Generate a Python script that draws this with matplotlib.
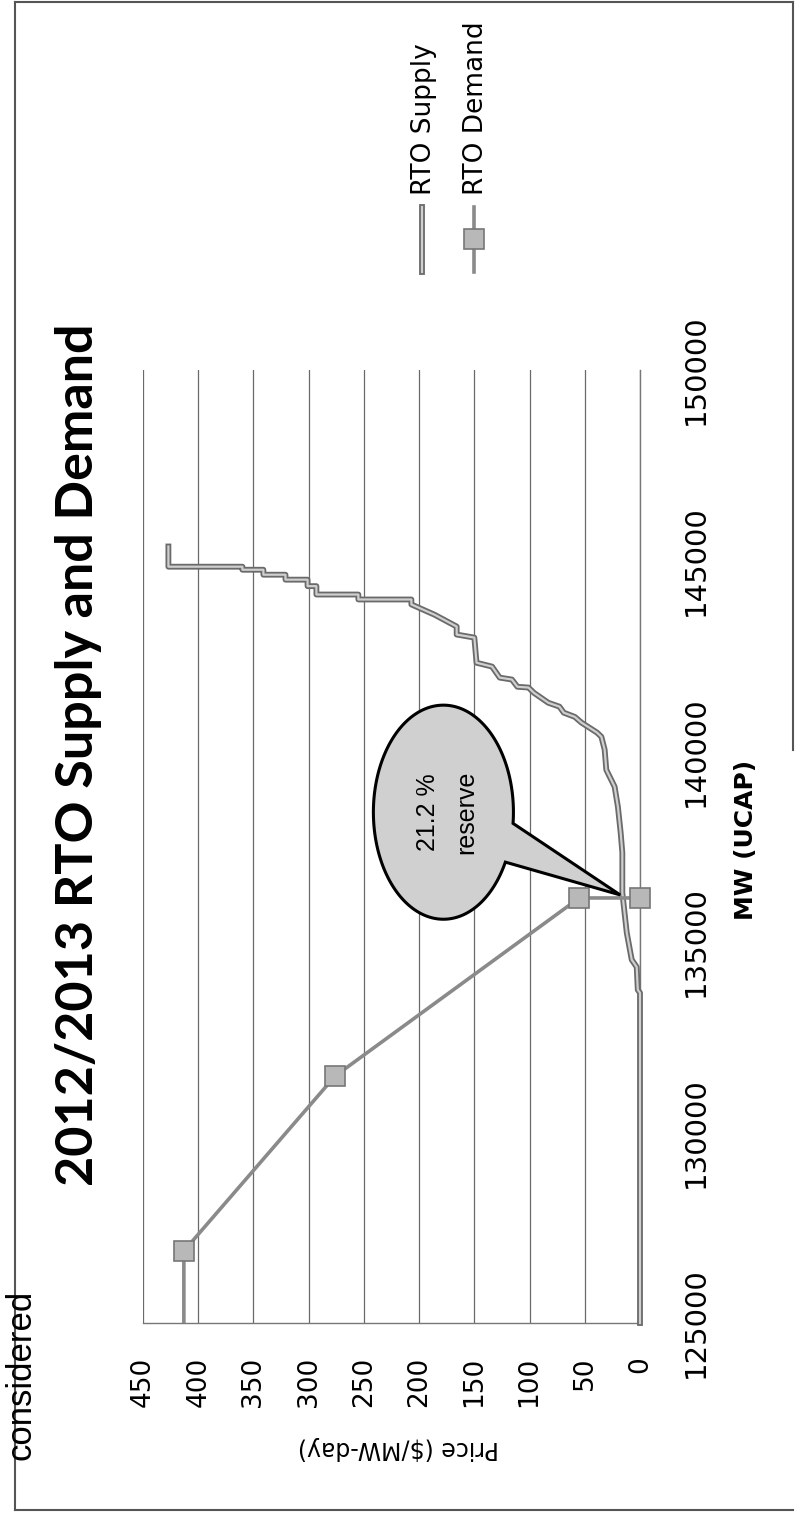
import numpy as np
import matplotlib
matplotlib.use("Agg")
import matplotlib.pyplot as plt
from matplotlib.lines import Line2D
from matplotlib.patches import Polygon

# RTO supply curve ($/MW-day vs MW UCAP)
supply_price = [0, 0, 2, 3, 7.5, 12, 16, 16, 17.5, 20, 23, 30.5, 32, 35, 39, 53, 59,
                69, 73, 83, 96, 101, 111, 116, 127, 134, 148, 150, 166, 166, 186,
                207, 207, 255, 255, 293, 293, 301, 301, 321, 321, 341, 341, 360,
                360, 427, 427]
supply_mw = [125000, 133660, 133740, 134340, 134530, 135240, 136290, 137340, 137860,
             138540, 139070, 139510, 140040, 140380, 140490, 140750, 140900, 141010,
             141170, 141270, 141530, 141670, 141690, 141880, 141930, 142220, 142320,
             142980, 143060, 143270, 143580, 143850, 143980, 143980, 144110, 144110,
             144330, 144330, 144500, 144500, 144630, 144630, 144760, 144760, 144840,
             144840, 145370]

# RTO demand (VRR) curve, first point lies below the axis range
demand_price = [413, 413, 276, 55, 0]
demand_mw = [120000, 126890, 131480, 136150, 136150]

price_ticks = [0, 50, 100, 150, 200, 250, 300, 350, 400, 450]
mw_ticks = [125000, 130000, 135000, 140000, 145000, 150000]

title = "2012/2013 RTO Supply and Demand"
legend_labels = ["RTO Supply", "RTO Demand"]
callout_text = "21.2 %\nreserve"
clear_price, clear_mw = 18, 136230  # where the callout points

plt.rcParams['font.family'] = ['DejaVu Sans']

W, H = 798, 1515
fig = plt.figure(figsize=(W / 100, H / 100), dpi=100)


def px(x, y):
    # pixel from top-left -> figure fraction
    return x / W, 1 - y / H


# the page is scanned sideways: price runs right-to-left, MW runs upward
ax = fig.add_axes([143 / W, 1 - 1323 / H, 497 / W, 953 / H])
ax.set_xlim(450, 0)
ax.set_ylim(125000, 150000)

ax.plot(supply_price, supply_mw, color='#6a6a6a', lw=4.2, clip_on=False, zorder=3)
ax.plot(supply_price, supply_mw, color='#cfcfcf', lw=1.6, clip_on=False, zorder=4)

ax.plot(demand_price, demand_mw, color='#8a8a8a', lw=2.6, zorder=5)
ax.plot(demand_price[1:], demand_mw[1:], 's', ms=15, mfc='#b8b8b8', mec='#777777',
        mew=1.2, clip_on=False, zorder=5)

ax.set_xticks(price_ticks)
ax.set_xticklabels([str(v) for v in price_ticks], rotation=90, fontsize=19)
ax.tick_params(axis='x', length=0, pad=24)

ax.yaxis.tick_right()
ax.set_yticks(mw_ticks)
ax.set_yticklabels([str(v) for v in mw_ticks], rotation=90, va='center', fontsize=21)
ax.tick_params(axis='y', length=0, pad=30)

ax.grid(axis='x', color='#6a6a6a', lw=0.9)
ax.grid(axis='y', visible=False)
ax.set_axisbelow(True)
for s in ['top', 'left']:
    ax.spines[s].set_visible(False)
for s in ['bottom', 'right']:
    ax.spines[s].set_color('#777777')
    ax.spines[s].set_linewidth(1.0)

# speech-bubble callout
pc, mc = 178, 138400
a, b = 63.4, 2808
th = np.radians(np.linspace(27.8, 366, 240))
pts = np.column_stack([pc - a * np.cos(th), mc - b * np.sin(th)])
pts = np.vstack([pts, [[clear_price, clear_mw]]])
ax.add_patch(Polygon(pts, closed=True, fc='#d0d0d0', ec='black', lw=2.2, zorder=6,
                     clip_on=False))
ax.text(pc - 3, mc, callout_text, rotation=90, ha='center', va='center', fontsize=18,
        family='Liberation Sans', linespacing=1.75, zorder=7)

# titles and axis labels (rotated with the page)
fig.text(*px(79, 755), title, rotation=90, ha='center', va='center', fontsize=37.5,
         fontweight='bold', family='Lato')
fig.text(*px(398, 1448), 'Price ($/MW-day)', rotation=180, ha='center', va='center',
         fontsize=17)
fig.text(*px(746, 840), 'MW (UCAP)', rotation=90, ha='center', va='center',
         fontsize=18, fontweight='bold')

# legend, drawn by hand because it is turned too
for i, lab in enumerate(legend_labels):
    x = 422 + 52 * i
    xs = [px(x, 272)[0], px(x, 207)[0]]
    ys = [px(x, 272)[1], px(x, 207)[1]]
    if i == 0:
        fig.add_artist(Line2D(xs, ys, color='#6a6a6a', lw=4.2))
        fig.add_artist(Line2D(xs, ys, color='#cfcfcf', lw=1.6))
    else:
        fig.add_artist(Line2D(xs, ys, color='#8a8a8a', lw=2.6))
        fig.add_artist(Line2D([xs[0]], [px(x, 239)[1]], marker='s', ms=15,
                              mfc='#b8b8b8', mec='#777777', mew=1.2))
    fig.text(*px(x + 2, 195), lab, rotation=90, rotation_mode='anchor', ha='left',
             va='center', fontsize=19)

# text running off the scanned page edge
fig.text(*px(30, 1460), 'considered', rotation=90, rotation_mode='anchor', ha='left',
         va='baseline', fontsize=25, family='Liberation Sans')

# page border of the scan
border = [((15, 2), (793, 2)), ((15, 2), (15, 1510)), ((15, 1510), (793, 1510)),
          ((793, 2), (793, 750))]
for p0, p1 in border:
    fig.add_artist(Line2D([px(*p0)[0], px(*p1)[0]], [px(*p0)[1], px(*p1)[1]],
                          color='#555555', lw=1.5))

fig.savefig('out.png', dpi=100)
